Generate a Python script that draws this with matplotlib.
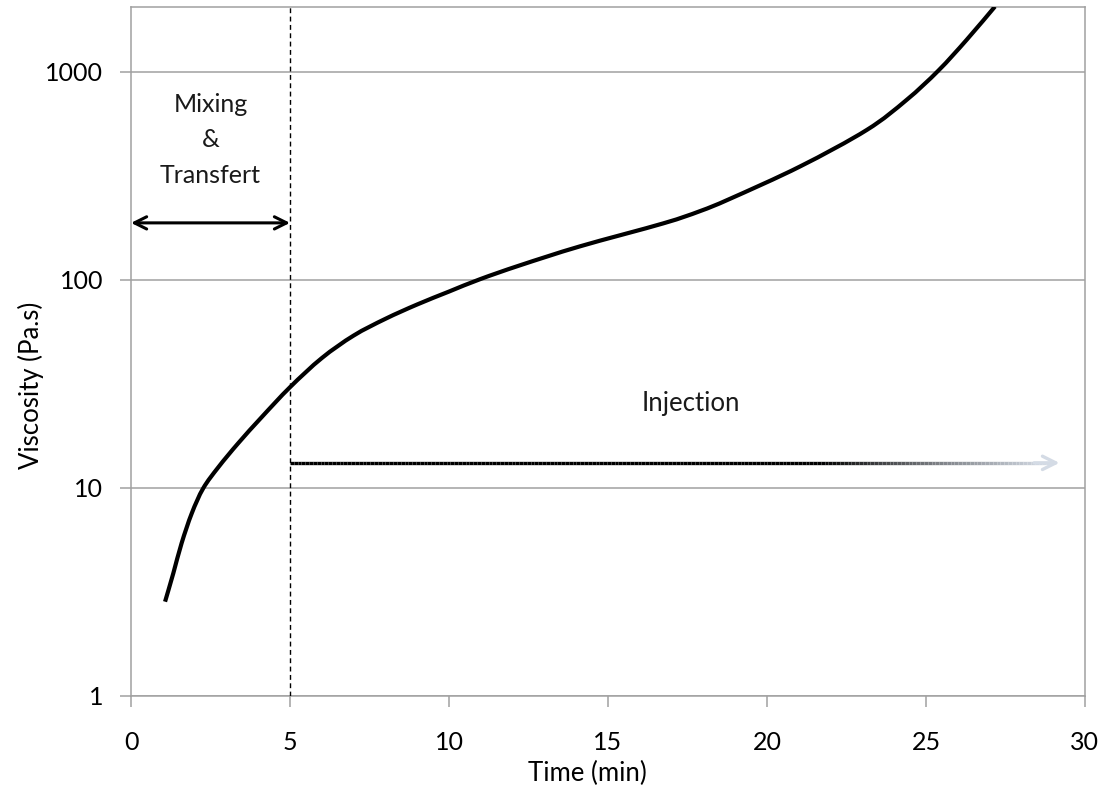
import numpy as np
import matplotlib
matplotlib.use('Agg')
import matplotlib.pyplot as plt
from matplotlib.collections import LineCollection
from matplotlib.colors import LinearSegmentedColormap
from matplotlib.path import Path
from matplotlib.patches import PathPatch

plt.rcParams['font.family'] = ['Lato', 'DejaVu Sans']

# Courbe de viscosité
time_min = [1.07, 1.33, 1.59, 1.91, 2.27, 2.75, 3.37, 4.11, 5.0, 6.0, 7.0,
            8.0, 9.0, 10.0, 10.97, 12.23, 14.12, 16.74, 17.89, 18.84, 21.04,
            23.14, 24.39, 25.39, 26.28, 27.17]
viscosity = [2.84, 3.89, 5.42, 7.55, 9.96, 12.6, 16.4, 21.9, 30.5, 42.1, 54.0,
             65.0, 76.2, 87.9, 100.7, 117.5, 145, 187, 214, 245.5, 351,
             526, 733, 1014, 1426, 2060]

# Flèches et annotations
mixing_span = [0, 5]
mixing_level = 188
injection_span = [5, 29.2]
injection_level = 13.2

x_ticks = [0, 5, 10, 15, 20, 25, 30]
y_ticks = [1, 10, 100, 1000]
y_tick_labels = ['1', '10', '100', '1000']

grey = '#a0a0a0'

fig = plt.figure(figsize=(11.17, 7.89), dpi=100)
ax = fig.add_axes([0.1173, 0.1179, 0.8540, 0.8732])

ax.set_yscale('log')
ax.set_xlim(0, 30)
ax.set_ylim(1, 2050)

# grille horizontale
for v in y_ticks:
    ax.axhline(v, color=grey, lw=1.1, zorder=1)

# ligne lissée (façon Excel) : Catmull-Rom en espace (t, log v)
P = np.column_stack([time_min, np.log10(viscosity)])
Pext = np.vstack([P[0], P, P[-1]])
verts = [P[0]]
codes = [Path.MOVETO]
for i in range(len(P) - 1):
    p0, p1, p2, p3 = Pext[i], Pext[i + 1], Pext[i + 2], Pext[i + 3]
    verts += [p1 + (p2 - p0) / 6, p2 - (p3 - p1) / 6, p2]
    codes += [Path.CURVE4] * 3
verts = np.array(verts)
verts[:, 1] = 10 ** verts[:, 1]
curve = PathPatch(Path(verts, codes), fill=False, ec='black', lw=3,
                  capstyle='butt', zorder=4)
ax.add_patch(curve)

# ligne verticale pointillée
ax.axvline(5, color='black', lw=1, ls=(0, (3.5, 2.5)), zorder=3)

# double flèche Mixing & Transfert
ax.annotate('', xy=(mixing_span[0], mixing_level), xytext=(mixing_span[1], mixing_level),
            arrowprops=dict(arrowstyle='<->', color='black', lw=2.2,
                            mutation_scale=22, shrinkA=0, shrinkB=0), zorder=5)
ax.text(2.5, 471, 'Mixing\n&\nTransfert', ha='center', va='center',
        fontsize=18, linespacing=1.65, color='#1a1a1a')

# flèche Injection avec dégradé
cmap = LinearSegmentedColormap.from_list('fade', [(0, 'black'), (0.7, 'black'),
                                                  (0.85, '#7a7d82'), (1, '#d4dbe5')])
xs = np.linspace(injection_span[0], injection_span[1] - 0.3, 200)
pts = np.column_stack([xs, np.full_like(xs, injection_level)])
segs = np.stack([pts[:-1], pts[1:]], axis=1)
lc = LineCollection(segs, colors=cmap(np.linspace(0, 1, len(segs))), lw=2.4, zorder=4)
ax.add_collection(lc)
ax.annotate('', xy=(injection_span[1], injection_level),
            xytext=(injection_span[1] - 0.8, injection_level),
            arrowprops=dict(arrowstyle='->', color='#d4dbe5', lw=2.4,
                            mutation_scale=24, shrinkA=0, shrinkB=0), zorder=5)
ax.text(17.6, 25.6, 'Injection', ha='center', va='center', fontsize=18.5,
        color='#1a1a1a')

ax.set_xticks(x_ticks)
ax.set_yticks(y_ticks)
ax.set_yticklabels(y_tick_labels)
ax.yaxis.set_minor_locator(matplotlib.ticker.NullLocator())
ax.tick_params(axis='both', direction='out', length=8, width=1.1, color=grey,
               labelsize=18)
ax.tick_params(axis='x', pad=17)
ax.tick_params(axis='y', pad=12)
for s in ax.spines.values():
    s.set_color(grey)
    s.set_linewidth(1.1)

fig.text(587 / 1117, 1 - 773 / 789, 'Time (min)', ha='center', va='center',
         fontsize=18.5)
fig.text(31 / 1117, 1 - 385 / 789, 'Viscosity (Pa.s)', ha='center', va='center',
         rotation=90, fontsize=18.5)

fig.savefig('out.png', dpi=100)
